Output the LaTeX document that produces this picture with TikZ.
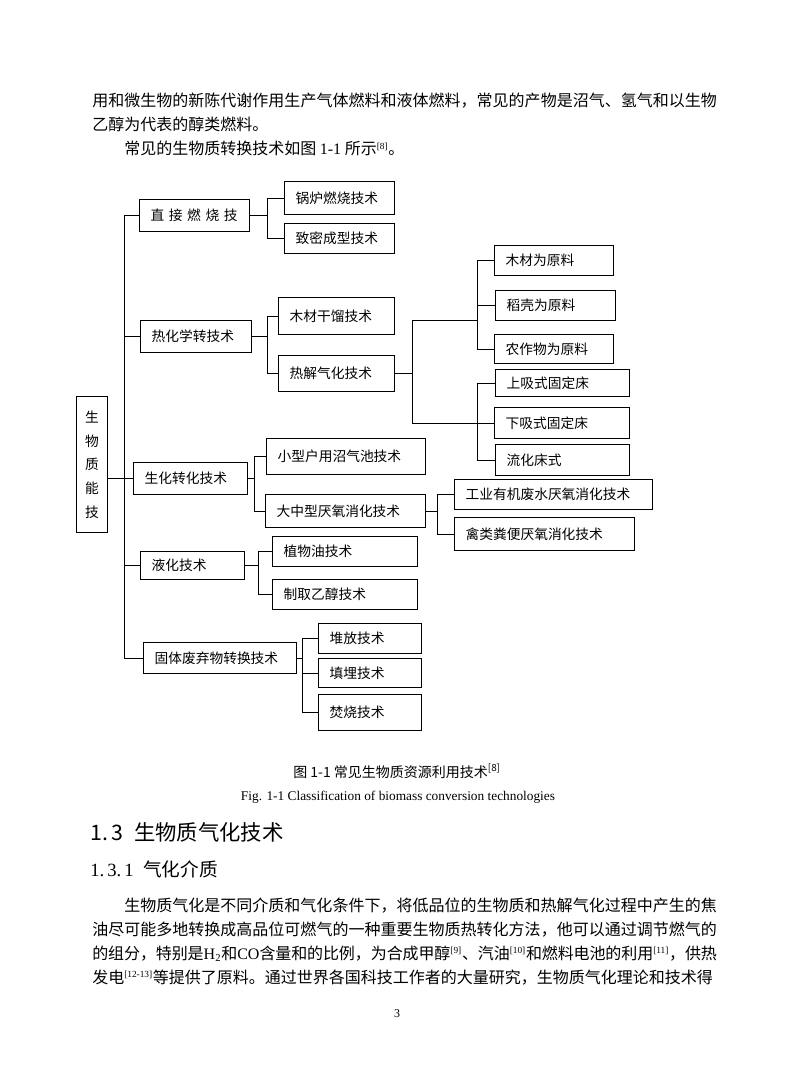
\documentclass[tikz,border=0pt]{standalone}
\usepackage{fontspec}
\setmainfont{Noto Sans CJK SC}
\newfontfamily\tnr{Liberation Serif}
\usepackage{tikz}
\XeTeXlinebreaklocale "zh"
\XeTeXlinebreakskip=0pt plus 1.5pt minus 0.4pt
\newcommand{\boxfont}{\fontsize{10.3}{12}\selectfont}
\newcommand{\refmark}[1]{\textsuperscript{\tnr\fontsize{7}{8}\selectfont[#1]}}

\begin{document}
\begin{tikzpicture}[x=0.75pt, y=-0.75pt,
							tbox/.style={draw=black, line width=0.9pt, anchor=north west, inner xsep=8.25pt, inner ysep=0pt, align=left, font=\boxfont},
							rootbox/.style={draw=black, line width=0.9pt, anchor=north west, inner sep=0pt, minimum width=23.25pt, minimum height=102pt, align=center, font=\fontsize{10.3}{17.8}\selectfont},
							branch/.style={draw=black, line width=0.75pt},
							bodytext/.style={anchor=base west, inner sep=0pt, text width=468.5pt, align=justify, font=\fontsize{12}{18}\selectfont},
							]
							\fill[white] (0,0) rectangle (793,1077);
							\useasboundingbox (0,0) rectangle (793,1077);

							%Text above the figure
							\node[bodytext]	(par1)	at	(92,107)	{用和微生物的新陈代谢作用生产气体燃料和液体燃料，常见的产物是沼气、氢气和以生物\linebreak 乙醇为代表的醇类燃料。};
							\node[bodytext]	(par2)	at	(92,155)	{\hspace*{2em}常见的生物质转换技术如图 {\tnr 1-1} 所示\refmark{8}。};

							%Nodes
							\node[rootbox]	(root)	at	(76,396)	{生\\物\\质\\能\\技};
							\node[tbox, text width=66pt, minimum height=24pt]	(d1)	at	(139,199)	{直 接 燃 烧 技};
							\node[tbox, text width=66pt, minimum height=24.75pt]	(d11)	at	(284,181)	{锅炉燃烧技术};
							\node[tbox, text width=66pt, minimum height=22.5pt]	(d12)	at	(284,223)	{致密成型技术};
							\node[tbox, text width=66.75pt, minimum height=24pt]	(t1)	at	(140,320)	{热化学转技术};
							\node[tbox, text width=70.5pt, minimum height=27.75pt]	(t11)	at	(278,297)	{木材干馏技术};
							\node[tbox, text width=70.5pt, minimum height=27pt]	(t12)	at	(278,355)	{热解气化技术};
							\node[tbox, text width=72.75pt, minimum height=22.5pt]	(r1)	at	(494,245)	{木材为原料};
							\node[tbox, text width=73.5pt, minimum height=22.5pt]	(r2)	at	(495,290)	{稻壳为原料};
							\node[tbox, text width=72.75pt, minimum height=21.75pt]	(r3)	at	(494,334)	{农作物为原料};
							\node[tbox, text width=84pt, minimum height=20.25pt]	(g1)	at	(495,369)	{上吸式固定床};
							\node[tbox, text width=84.75pt, minimum height=23.25pt]	(g2)	at	(494,407)	{下吸式固定床};
							\node[tbox, text width=84pt, minimum height=23.25pt]	(g3)	at	(495,444)	{流化床式};
							\node[tbox, text width=69pt, minimum height=24pt]	(b1)	at	(133,462)	{生化转化技术};
							\node[tbox, text width=102.75pt, minimum height=27pt]	(b11)	at	(266,438)	{小型户用沼气池技术};
							\node[tbox, text width=103.5pt, minimum height=24.75pt]	(b12)	at	(265,494)	{大中型厌氧消化技术};
							\node[tbox, text width=132pt, minimum height=22.5pt]	(b21)	at	(454,479)	{工业有机废水厌氧消化技术};
							\node[tbox, text width=118.5pt, minimum height=24.75pt]	(b22)	at	(454,517)	{禽类粪便厌氧消化技术};
							\node[tbox, text width=61.5pt, minimum height=21pt]	(l1)	at	(140,551)	{液化技术};
							\node[tbox, text width=92.25pt, minimum height=22.5pt]	(l11)	at	(272,536)	{植物油技术};
							\node[tbox, text width=92.25pt, minimum height=22.5pt]	(l12)	at	(272,579)	{制取乙醇技术};
							\node[tbox, text width=98.25pt, minimum height=23.25pt]	(s1)	at	(143,642)	{固体废弃物转换技术};
							\node[tbox, text width=60.75pt, minimum height=22.5pt]	(s11)	at	(318,623)	{堆放技术};
							\node[tbox, text width=60.75pt, minimum height=21.75pt]	(s12)	at	(318,658)	{填埋技术};
							\node[tbox, text width=60.75pt, minimum height=27pt]	(s13)	at	(318,694)	{焚烧技术};

							%Junctions
							\coordinate	(tr)	at	(124,0);
							\coordinate	(jd)	at	(267,0);
							\coordinate	(jt)	at	(267,0);
							\coordinate	(jp)	at	(412,0);
							\coordinate	(jr)	at	(477,320);
							\coordinate	(jb)	at	(254,0);
							\coordinate	(jc)	at	(437,0);
							\coordinate	(jl)	at	(258,0);
							\coordinate	(js)	at	(302,0);

							%Trunk
							\draw[branch] (d1.west -| tr) -- (s1.west -| tr);
							\draw[branch] (d1.west) -- (d1.west -| tr);
							\draw[branch] (t1.west) -- (t1.west -| tr);
							\draw[branch] (root.east |- b1.west) -- (b1.west);
							\draw[branch] (l1.west) -- (l1.west -| tr);
							\draw[branch] (s1.west) -- (s1.west -| tr);

							%Branches
							\draw[branch] (d1.east) -- (d1.east -| jd);
							\draw[branch] (d11.west) -| (jd |- d12.west) -- (d12.west);
							\draw[branch] (t1.east) -- (t1.east -| jt);
							\draw[branch] (t11.west) -| (jt |- t12.west) -- (t12.west);
							\draw[branch] (t12.east) -- (t12.east -| jp);
							\draw[branch] (jp |- jr) -- (jr);
							\draw[branch] (jp |- jr) -- (jp |- g2.west) -- (g2.west);
							\draw[branch] (r1.west) -| (jr |- r3.west) -- (r3.west);
							\draw[branch] (r2.west) -- (r2.west -| jr);
							\draw[branch] (g1.west) -| (jr |- g3.west) -- (g3.west);
							\draw[branch] (b1.east) -- (b1.east -| jb);
							\draw[branch] (b11.west) -| (jb |- b12.west) -- (b12.west);
							\draw[branch] (b12.east) -- (b12.east -| jc);
							\draw[branch] (b21.west) -| (jc |- b22.west) -- (b22.west);
							\draw[branch] (l1.east) -- (l1.east -| jl);
							\draw[branch] (l11.west) -| (jl |- l12.west) -- (l12.west);
							\draw[branch] (s1.east) -- (s1.east -| js);
							\draw[branch] (s11.west) -| (js |- s13.west) -- (s13.west);
							\draw[branch] (s12.west) -- (s12.west -| js);

							%Captions and text below
							\node[anchor=base, inner sep=0pt, font=\fontsize{10.5}{12}\selectfont]	(cap)	at	(397,777)	{图 1-1 常见生物质资源利用技术\textsuperscript{[8]}};
							\node[anchor=base, inner sep=0pt, font=\tnr\fontsize{10}{12}\selectfont]	(capen)	at	(398,800)	{Fig. 1-1 Classification of biomass conversion technologies};
							\node[anchor=base west, inner sep=0pt, font=\fontsize{16}{16}\selectfont]	(sec)	at	(90,840)	{1.\,3\enspace 生物质气化技术};
							\node[anchor=base west, inner sep=0pt, font=\fontsize{14}{14}\selectfont]	(subsec)	at	(90,876)	{{\tnr 1.\,3.\,1}\enspace 气化介质};
							\node[bodytext]	(par3)	at	(92,911)	{\parfillskip=0pt\hspace*{2em}生物质气化是不同介质和气化条件下，将低品位的生物质和热解气化过程中产生的焦\linebreak 油尽可能多地转换成高品位可燃气的一种重要生物质热转化方法，他可以通过调节燃气的\linebreak 的组分，特别是{\tnr H\textsubscript{2}}和{\tnr CO}含量和的比例，为合成甲醇\refmark{9}、汽油\refmark{10}和燃料电池的利用\refmark{11}，供热\linebreak 发电\refmark{12-13}等提供了原料。通过世界各国科技工作者的大量研究，生物质气化理论和技术得};
							\node[anchor=base, inner sep=0pt, font=\tnr\fontsize{9}{10}\selectfont]	(page)	at	(397,1017)	{3};
						\end{tikzpicture}
\end{document}
